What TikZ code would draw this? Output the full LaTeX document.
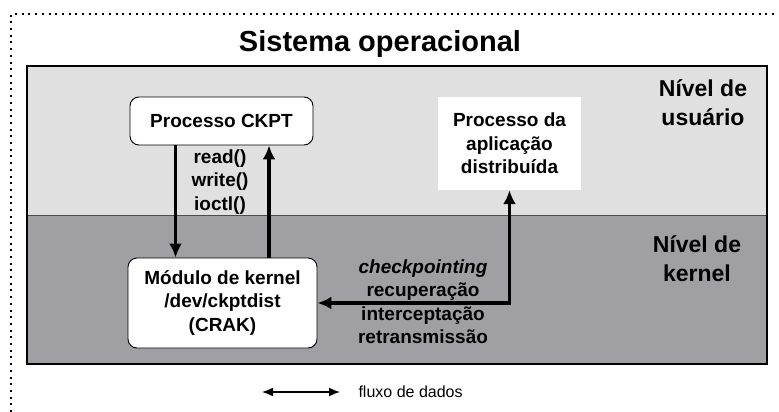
\documentclass[tikz,border=0pt]{standalone}
\usepackage{fontspec}
\setmainfont{Liberation Sans}
\usepackage{xcolor}
\usepackage{tikz}
\usetikzlibrary{calc}
\usetikzlibrary{arrows.meta}

\definecolor{usrgray}{HTML}{E0E0E0}
\definecolor{krngray}{HTML}{A09FA4}

\tikzset{
  txt/.style={font=\bfseries\fontsize{19}{23.5}\selectfont, align=center},
  lvl/.style={font=\bfseries\fontsize{23}{29}\selectfont, align=center},
  proc/.style={txt, draw=black, line width=0.9pt, fill=white, rounded corners=9pt},
  flow/.style={line width=3.2pt, -{Latex[length=14pt,width=13pt]}},
}

\begin{document}
\begin{tikzpicture}[x=1pt,y=-1pt]
            \useasboundingbox (0,0) rectangle (779,412);
            %\draw[help lines] (0,0) grid[step=50] (779,412);
            \draw[line width=1.6pt, dash pattern=on 2pt off 4.7pt] (11,412)--(11,14)--(779,14);
            \node[font=\bfseries\fontsize{29}{34}\selectfont] (title) at (380,44) {Sistema operacional};
            % niveis
            \fill[usrgray] (27,66) rectangle (767,215);
            \fill[krngray] (27,215) rectangle (767,364);
            \draw[line width=1pt, draw=black!70] (27,215)--(767,215);
            \draw[line width=1.4pt] (27,66) rectangle (767,364);
            \node[lvl] (usr) at (703,103) {Nível de\\usuário};
            \node[lvl] (krn) at (697,259) {Nível de\\kernel};
            % processos
            \node[proc, minimum width=183pt, minimum height=48pt] (ckpt) at (221.5,121) {Processo CKPT};
            \node[proc, minimum width=189pt, minimum height=90pt] (kmod) at (222.5,303) {Módulo de kernel\\/dev/ckptdist\\(CRAK)};
            \node[txt, fill=white, minimum width=143pt, minimum height=93pt] (app) at (509.5,143.5) {Processo da\\aplicação\\distribuída};
            % chamadas
            \coordinate (dn) at ($(ckpt.south west)!0.25!(ckpt.south east)$);
            \coordinate (up) at ($(kmod.north west)!0.745!(kmod.north east)$);
            \draw[flow] (dn)--(dn |- kmod.north);
            \draw[flow] (up)--(up |- ckpt.south);
            \node[txt] (calls) at (220,182) {read()\\write()\\ioctl()};
            % checkpointing
            \draw[flow, {Latex[length=14pt,width=13pt]}-{Latex[length=14pt,width=13pt]}] (kmod.east) -| (app.south);
            \node[txt] (ops) at (423,301.5) {\textit{checkpointing}\\recuperação\\interceptação\\retransmissão};
            % legenda
            \coordinate (la) at (262,392);
            \coordinate (lb) at (340,392);
            \draw[line width=1.5pt, {Latex[length=11pt,width=9pt]}-{Latex[length=11pt,width=9pt]}] (la)--(lb);
            \node[anchor=west, font=\fontsize{16}{19}\selectfont] (leg) at (355,392) {fluxo de dados};
\end{tikzpicture}
\end{document}
